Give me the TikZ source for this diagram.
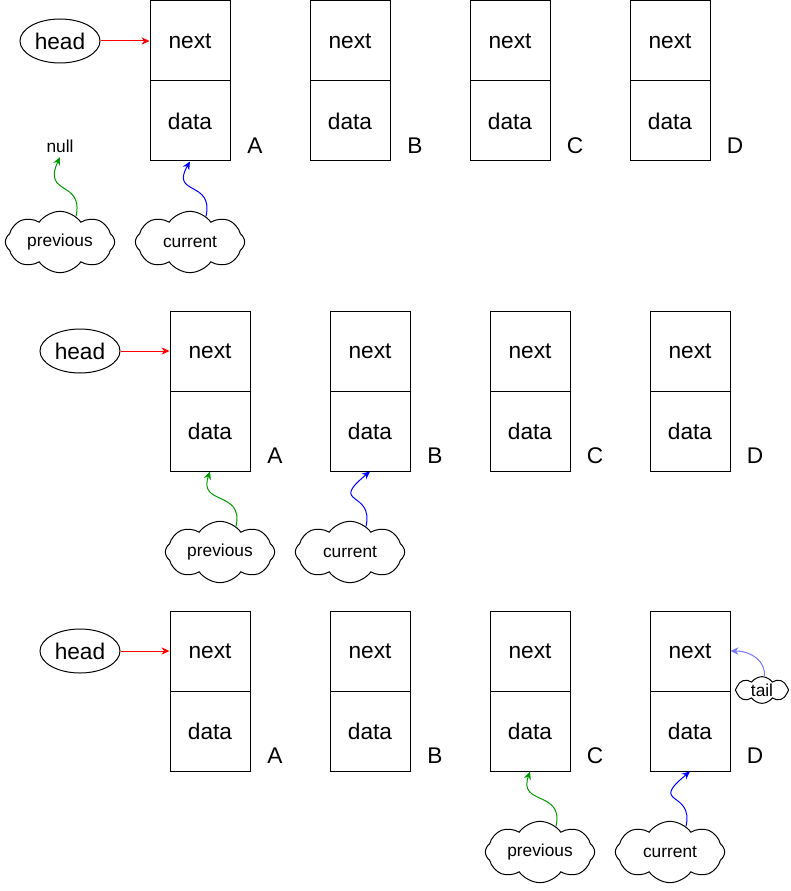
\documentclass[tikz,border=0pt]{standalone}
\usepackage{fontspec}
\setmainfont{Liberation Sans}
\usetikzlibrary{shapes.geometric,shapes.symbols,arrows.meta}
\definecolor{pgreen}{HTML}{009900}
\definecolor{tailblue}{HTML}{7777FF}
\tikzset{
  cell/.style={draw, line width=0.75pt, minimum width=60pt, minimum height=60pt, inner sep=0pt, font=\fontsize{17}{20}\selectfont},
  lbl/.style={font=\fontsize{17}{20}\selectfont},
  headnode/.style={draw, ellipse, line width=0.75pt, minimum width=60pt, minimum height=33pt, inner sep=0pt, font=\fontsize{17}{20}\selectfont},
  cloudnode/.style={draw, cloud, cloud puffs=8, cloud puff arc=110, cloud ignores aspect, line width=0.75pt, minimum width=82pt, minimum height=46pt, inner sep=0pt, font=\fontsize{13}{15}\selectfont},
  smallcloud/.style={draw, cloud, cloud puffs=8, cloud puff arc=110, cloud ignores aspect, line width=0.75pt, minimum width=40pt, minimum height=20pt, inner sep=0pt, font=\fontsize{13}{15}\selectfont},
  small/.style={font=\fontsize{13}{15}\selectfont},
  conn/.style={-{Stealth[length=6pt,width=5.5pt]}, line width=0.75pt},
}
\begin{document}
\begin{tikzpicture}[x=0.75pt,y=-0.75pt]
\useasboundingbox (0,0) rectangle (791,891);
% ---------- row 1 ----------
\foreach \k/\x/\L in {a/190/A,b/350/B,c/510/C,d/670/D}{
  \node[cell] (n1\k) at (\x,41) {next};
  \node[cell] (d1\k) at (\x,121) {data};
  \node[lbl] (l1\k) at (\x+65,146) {\L};
}
\node[headnode] (h1) at (60,41) {head};
\draw[conn, red] (h1.east) -- (n1a.west);
\node[small] (null) at (60,146) {null};
\node[cloudnode] (p1) at (60,242) {previous};
\node[cloudnode] (c1) at (190,242) {current};
\draw[conn, pgreen] (p1.58) .. controls (84,180) and (42,196) .. (null.south);
\draw[conn, blue] (c1.58) .. controls (214,180) and (170,196) .. (d1a.south);
% ---------- row 2 ----------
\foreach \k/\x/\L in {a/210/A,b/370/B,c/530/C,d/690/D}{
  \node[cell] (n2\k) at (\x,351) {next};
  \node[cell] (d2\k) at (\x,431) {data};
  \node[lbl] (l2\k) at (\x+65,456) {\L};
}
\node[headnode] (h2) at (80,351) {head};
\draw[conn, red] (h2.east) -- (n2a.west);
\node[cloudnode] (p2) at (220,552) {previous};
\node[cloudnode] (c2) at (350,552) {current};
\draw[conn, pgreen] (p2.58) .. controls (244,490) and (198,506) .. (d2a.south);
\draw[conn, blue] (c2.58) .. controls (374,490) and (328,506) .. (d2b.south);
% ---------- row 3 ----------
\foreach \k/\x/\L in {a/210/A,b/370/B,c/530/C,d/690/D}{
  \node[cell] (n3\k) at (\x,651) {next};
  \node[cell] (d3\k) at (\x,731) {data};
  \node[lbl] (l3\k) at (\x+65,756) {\L};
}
\node[headnode] (h3) at (80,651) {head};
\draw[conn, red] (h3.east) -- (n3a.west);
\node[cloudnode] (p3) at (540,852) {previous};
\node[cloudnode] (c3) at (670,852) {current};
\draw[conn, pgreen] (p3.58) .. controls (564,790) and (518,806) .. (d3c.south);
\draw[conn, blue] (c3.58) .. controls (694,790) and (648,806) .. (d3d.south);
\node[smallcloud] (tail) at (762,690) {tail};
\draw[conn, tailblue] (tail.80) .. controls (766,662) and (752,651) .. (n3d.east);
\end{tikzpicture}
\end{document}
